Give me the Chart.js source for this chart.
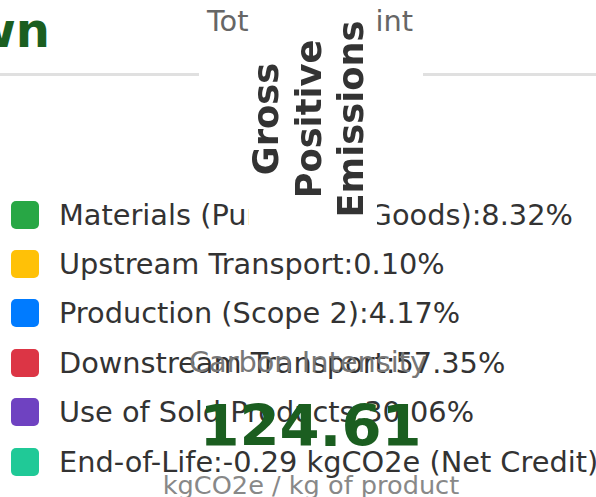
<!DOCTYPE html>
<html>
<head>
<meta charset="utf-8">
<script src="https://cdn.jsdelivr.net/npm/chart.js@4.4.1/dist/chart.umd.min.js"></script>
<style>
  html, body { margin:0; padding:0; background:#fff; }
  body { width:596px; height:497px; position:relative; overflow:hidden; font-family:"DejaVu Sans", sans-serif; }
  .abs { position:absolute; white-space:nowrap; line-height:1; }
  #heading { right:546px; top:6px; font-size:48px; font-weight:bold; color:#1b5e20; text-align:right; }
  .rule { position:absolute; top:73px; height:3px; background:#e0e0e0; }
  .center { left:10px; width:600px; text-align:center; }
  #totalLabel { top:6.6px; font-size:28.8px; color:#666; }
  #cover { position:absolute; left:249px; top:0; width:128px; height:240px; background:#fff; z-index:2; }
  #chartWrap { position:absolute; left:238px; top:0; width:134px; height:238px; z-index:3; }
  #legend { position:absolute; left:11px; top:190px; margin:0; padding:0; list-style:none; z-index:1; }
  #legend li { display:flex; align-items:center; height:49.4px; font-size:28.8px; color:#333; white-space:nowrap; }
  #legend .sw { width:28px; height:28px; border-radius:5px; margin-right:20px; flex:none; }
  #ciLabel { top:348px; font-size:28.8px; color:#777; z-index:4; left:8px; }
  #ciValue { top:398.3px; font-size:57.6px; font-weight:bold; color:#1b5e20; z-index:4; left:10.5px; }
  #ciUnit { top:473.3px; font-size:25.6px; color:#888; z-index:4; left:11px; }
</style>
</head>
<body>
<div id="heading" class="abs"></div>
<div class="rule" style="left:0;width:199px"></div>
<div class="rule" style="left:423px;width:173px"></div>
<div id="totalLabel" class="abs center"></div>
<ul id="legend"></ul>
<div id="cover"></div>
<div id="chartWrap"><canvas id="c" width="134" height="238"></canvas></div>
<div id="ciLabel" class="abs center"></div>
<div id="ciValue" class="abs center"></div>
<div id="ciUnit" class="abs center"></div>
<script>
// ---- data ----
const headingText = "Emissions Breakdown";
const totalLabelText = "Total Footprint";
const chartTitleLines = ["Gross", "Positive", "Emissions"];
const categories = [
  "Materials (Purchased Goods)",
  "Upstream Transport",
  "Production (Scope 2)",
  "Downstream Transport",
  "Use of Sold Products"
];
const sharePercent = [8.32, 0.10, 4.17, 57.35, 30.06];
const categoryColors = ["#28a745", "#ffc107", "#007bff", "#dc3545", "#6f42c1"];
const creditLabel = "End-of-Life";
const creditValue = -0.29;
const creditColor = "#20c997";
const intensityLabel = "Carbon Intensity";
const intensityValue = 124.61;
const intensityUnit = "kgCO2e / kg of product";

// ---- text ----
document.getElementById('heading').textContent = headingText;
document.getElementById('totalLabel').textContent = totalLabelText;
document.getElementById('ciLabel').textContent = intensityLabel;
document.getElementById('ciValue').textContent = intensityValue.toFixed(2);
document.getElementById('ciUnit').textContent = intensityUnit;

// ---- legend built from the data ----
const legend = document.getElementById('legend');
function addItem(color, text) {
  const li = document.createElement('li');
  const sw = document.createElement('span');
  sw.className = 'sw';
  sw.style.background = color;
  const t = document.createElement('span');
  t.textContent = text;
  li.appendChild(sw); li.appendChild(t);
  legend.appendChild(li);
}
categories.forEach((c, i) => addItem(categoryColors[i], c + ":" + sharePercent[i].toFixed(2) + "%"));
addItem(creditColor, creditLabel + ":" + creditValue.toFixed(2) + " kgCO2e (Net Credit)");

// ---- chart ----
Chart.defaults.font.family = "'DejaVu Sans', sans-serif";
new Chart(document.getElementById('c'), {
  type: 'doughnut',
  data: {
    labels: categories,
    datasets: [{ data: sharePercent, backgroundColor: categoryColors, borderWidth: 0 }]
  },
  options: {
    responsive: false,
    animation: false,
    devicePixelRatio: 1,
    cutout: '65%',
    plugins: {
      legend: { display: false },
      tooltip: { enabled: false },
      title: {
        display: true,
        position: 'left',
        text: chartTitleLines,
        color: '#333',
        font: { size: 35.2, weight: 'bold', lineHeight: 1.2 },
        padding: 10
      }
    }
  }
});
</script>
</body>
</html>
